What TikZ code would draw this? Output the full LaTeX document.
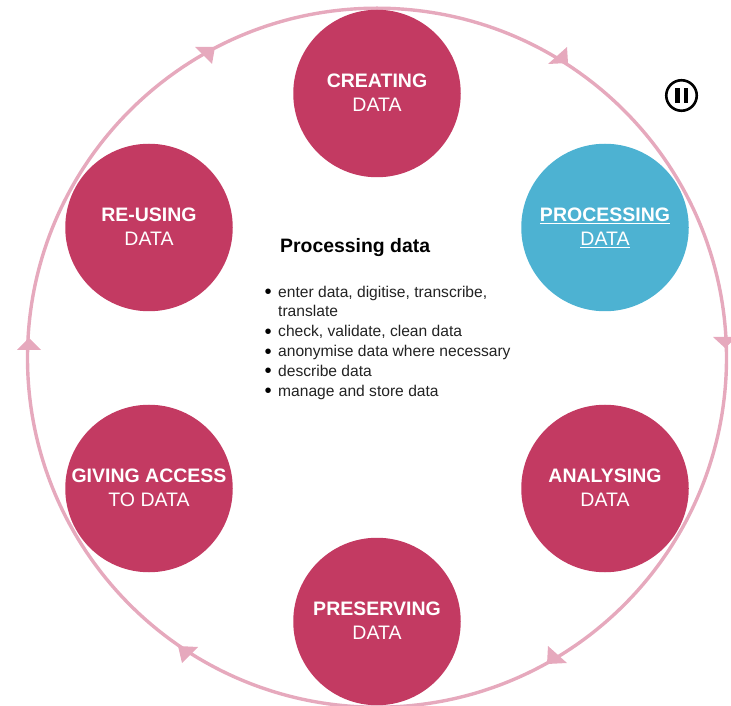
\documentclass[tikz,border=0pt]{standalone}
\usepackage{fontspec}
\setmainfont{Liberation Sans}
\definecolor{ringpink}{HTML}{E6A9BD}
\definecolor{crimson}{HTML}{C33A62}
\definecolor{skyblue}{HTML}{4DB2D2}
\definecolor{bodygrey}{HTML}{222222}
\tikzset{
  x=1pt,y=1pt,
  ringline/.style={circle,draw=ringpink,line width=3.4pt,minimum size=699pt,inner sep=0pt,outer sep=0pt},
  ringhead/.style={fill=ringpink},
  stage/.style={circle,fill=crimson,minimum size=167.5pt,inner sep=0pt,text=white,align=center,
    font=\fontsize{19.5}{24.5}\selectfont},
  stageactive/.style={stage,fill=skyblue},
}
\newcommand{\stagelabel}[2]{\raisebox{-1pt}[\height][\depth]{\begin{tabular}{@{}c@{}}#1\\#2\end{tabular}}}
\newcommand{\itemdot}{\makebox[16pt][l]{\hspace{2.5pt}\raisebox{-1.7pt}{\scalebox{1.3}{\textcolor{black}{•}}}}}
\begin{document}
\begin{tikzpicture}
\useasboundingbox (0,0) rectangle (731,705);
\node[ringline] (ring) at (377,347.3) {};
\fill[ringhead] (548,641) -- (567,658) -- (568,642) -- cycle;
\fill[ringhead] (713,368) -- (737,368) -- (725,357) -- cycle;
\fill[ringhead] (548,59) -- (567,42) -- (547,41) -- cycle;
\fill[ringhead] (178,59) -- (198,58) -- (182,42) -- cycle;
\fill[ringhead] (17,355) -- (41,355) -- (29,367) -- cycle;
\fill[ringhead] (195,658) -- (215,658) -- (212,641) -- cycle;
\node[stage] (creating) at (377,611.5) {\stagelabel{\textbf{CREATING}}{DATA}};
\node[stageactive] (processing) at (605,477.5) {\stagelabel{\textbf{\underline{PROCESSING}}}{\underline{DATA}}};
\node[stage] (analysing) at (605,216.5) {\stagelabel{\textbf{ANALYSING}}{DATA}};
\node[stage] (preserving) at (377,83.5) {\stagelabel{\textbf{PRESERVING}}{DATA}};
\node[stage] (giving) at (149,216.5) {\stagelabel{\textbf{GIVING ACCESS}}{TO DATA}};
\node[stage] (reusing) at (149,477.5) {\stagelabel{\textbf{RE-USING}}{DATA}};
\node[anchor=west,inner sep=0pt,font=\fontsize{19.4}{22}\selectfont\bfseries] (title) at (280,457.5) {Processing data};
\node[anchor=north west,inner sep=0pt,align=left,text=bodygrey,font=\fontsize{15.6}{19.8}\selectfont] (details) at (262,419.5)
 {\itemdot enter data, digitise, transcribe,\\
  \makebox[16pt][l]{}translate\\
  \itemdot check, validate, clean data\\
  \itemdot anonymise data where necessary\\
  \itemdot describe data\\
  \itemdot manage and store data};
\node[circle,draw=black,line width=2.6pt,fill=white,minimum size=30.5pt,inner sep=0pt] (pause) at (681.5,609.5) {};
\fill[black] (675,602) rectangle (679.8,617);
\fill[black] (683.6,602) rectangle (688.4,617);
\end{tikzpicture}
\end{document}
